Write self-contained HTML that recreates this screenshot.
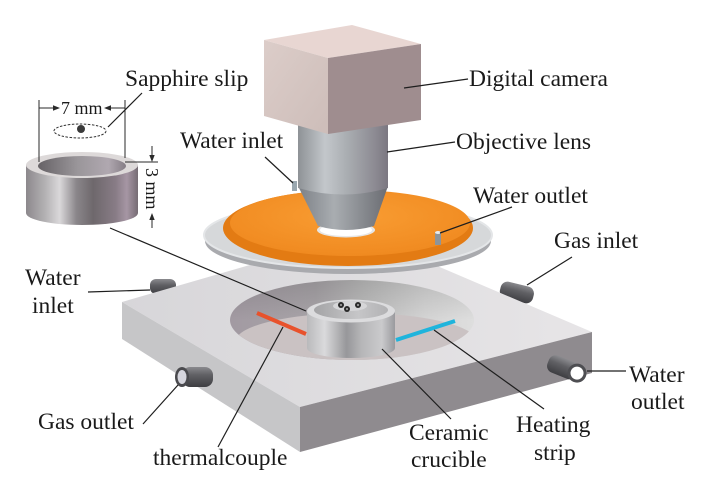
<!DOCTYPE html>
<html><head><meta charset="utf-8"><style>
html,body{margin:0;padding:0;background:#fff;}
svg{display:block;}
text{font-family:"Liberation Serif","Times New Roman",serif;font-size:23.5px;fill:#1a1a1a;}
.ld{stroke:#1e1e1e;stroke-width:1.2;fill:none;}
.dm{stroke:#2a2a2a;stroke-width:1;fill:none;}
</style></head><body>
<svg width="708" height="485" viewBox="0 0 708 485" xmlns="http://www.w3.org/2000/svg">
<defs>
 <linearGradient id="gTop" x1="0" y1="0" x2="1" y2="0">
  <stop offset="0" stop-color="#d7d6d9"/><stop offset="1" stop-color="#e7e5e7"/>
 </linearGradient>
 <linearGradient id="gWell" x1="0" y1="0" x2="1" y2="0">
  <stop offset="0" stop-color="#a29aa2"/><stop offset="0.35" stop-color="#a8a4a8"/>
  <stop offset="0.55" stop-color="#bcbcbc"/><stop offset="0.8" stop-color="#d4d4d4"/>
  <stop offset="1" stop-color="#dedede"/>
 </linearGradient>
 <linearGradient id="gWellShade" x1="0" y1="0" x2="0" y2="1">
  <stop offset="0" stop-color="#000" stop-opacity="0.12"/><stop offset="0.5" stop-color="#000" stop-opacity="0"/>
 </linearGradient>
 <linearGradient id="gCruc" x1="0" y1="0" x2="1" y2="0">
  <stop offset="0" stop-color="#b9b9bb"/><stop offset="0.2" stop-color="#dadadc"/>
  <stop offset="0.45" stop-color="#97979a"/><stop offset="0.62" stop-color="#b6b6b8"/>
  <stop offset="0.85" stop-color="#cacacc"/><stop offset="1" stop-color="#9a9a9e"/>
 </linearGradient>
 <linearGradient id="gCrucIn" x1="0" y1="0" x2="1" y2="0">
  <stop offset="0" stop-color="#a4a4a6"/><stop offset="0.6" stop-color="#c6c6c8"/><stop offset="1" stop-color="#b2b2b4"/>
 </linearGradient>
 <linearGradient id="gLens" x1="0" y1="0" x2="1" y2="0">
  <stop offset="0" stop-color="#8e9296"/><stop offset="0.3" stop-color="#c3c7cb"/>
  <stop offset="0.55" stop-color="#a9adb1"/><stop offset="0.85" stop-color="#8d8b93"/>
  <stop offset="1" stop-color="#7b7781"/>
 </linearGradient>
 <linearGradient id="gCone" x1="0" y1="0" x2="1" y2="0">
  <stop offset="0" stop-color="#7c8086"/><stop offset="0.4" stop-color="#a9adb1"/>
  <stop offset="1" stop-color="#6a6c72"/>
 </linearGradient>
 <linearGradient id="gRing" x1="0" y1="0" x2="1" y2="0">
  <stop offset="0" stop-color="#8c888c"/><stop offset="0.18" stop-color="#b6b4b6"/>
  <stop offset="0.3" stop-color="#dad8da"/><stop offset="0.45" stop-color="#8a868a"/>
  <stop offset="0.6" stop-color="#6e686c"/><stop offset="0.8" stop-color="#887c86"/>
  <stop offset="0.9" stop-color="#a696a4"/><stop offset="1" stop-color="#766c74"/>
 </linearGradient>
 <linearGradient id="gHole" x1="0" y1="0" x2="1" y2="0">
  <stop offset="0" stop-color="#666266"/><stop offset="0.45" stop-color="#9a969a"/>
  <stop offset="0.8" stop-color="#b0a8b0"/><stop offset="1" stop-color="#857d85"/>
 </linearGradient>
 <linearGradient id="gPipe" x1="0" y1="0" x2="0" y2="1">
  <stop offset="0" stop-color="#8a8a8e"/><stop offset="0.4" stop-color="#606064"/><stop offset="1" stop-color="#3e3e42"/>
 </linearGradient>
 <linearGradient id="gBoxL" x1="0" y1="0" x2="1" y2="1">
  <stop offset="0" stop-color="#dccdc9"/><stop offset="1" stop-color="#cdbdb9"/>
 </linearGradient>
 <radialGradient id="gOr" cx="0.5" cy="0.4" r="0.6">
  <stop offset="0" stop-color="#f99d33"/><stop offset="1" stop-color="#f08a20"/>
 </radialGradient>
 <clipPath id="cWell"><ellipse cx="352" cy="320" rx="122" ry="40"/></clipPath>
</defs>

<!-- back pipes -->
<rect x="150" y="279" width="26" height="15" rx="6" fill="url(#gPipe)"/>
<rect x="500" y="284" width="34" height="17" rx="7" fill="url(#gPipe)" transform="rotate(14 517 292)"/>

<!-- base block -->
<polygon points="122,302 360,233 592,332 300,407" fill="url(#gTop)"/>
<polygon points="122,302 300,407 300,452 122,339" fill="#c6c6c8"/>
<polygon points="300,407 592,332 592,373 300,452" fill="#8f8b8f"/>

<!-- well -->
<ellipse cx="352" cy="320" rx="122" ry="40" fill="url(#gWell)"/>
<ellipse cx="352" cy="320" rx="122" ry="40" fill="url(#gWellShade)"/>
<g clip-path="url(#cWell)">
 <ellipse cx="356" cy="341" rx="120" ry="28" fill="#cac2c3"/>
</g>

<!-- thermocouple -->
<line x1="257" y1="313" x2="306" y2="334" stroke="#e8522c" stroke-width="4"/>

<!-- crucible -->
<path d="M307,311 L307,348 A44,10 0 0 0 395,348 L395,311 Z" fill="url(#gCruc)"/>
<ellipse cx="351" cy="311" rx="44" ry="11.5" fill="#dcdcde"/>
<ellipse cx="351" cy="310" rx="37" ry="9" fill="url(#gCrucIn)"/>
<ellipse cx="350" cy="306" rx="17" ry="5" fill="#d6d6d8"/>
<circle cx="341" cy="305" r="3" fill="#2a2a2a"/><circle cx="341" cy="305" r="1.1" fill="#9a9a9a"/>
<circle cx="347" cy="309" r="3" fill="#2a2a2a"/><circle cx="347" cy="309" r="1.1" fill="#9a9a9a"/>
<circle cx="358" cy="305" r="3" fill="#2a2a2a"/><circle cx="358" cy="305" r="1.1" fill="#9a9a9a"/>

<!-- heating strip -->
<line x1="396" y1="340" x2="455" y2="321" stroke="#1fb4dc" stroke-width="4"/>

<!-- front pipes -->
<rect x="182" y="367" width="31" height="20" rx="8" fill="url(#gPipe)"/>
<ellipse cx="182" cy="377" rx="7" ry="10" fill="#4a4a4e"/>
<ellipse cx="182" cy="377" rx="4.5" ry="7" fill="#d6d6de"/>
<g transform="translate(552,363) rotate(22)">
 <rect x="-4" y="-9" width="31" height="18" rx="7" fill="url(#gPipe)"/>
 <circle cx="27" cy="0" r="9.5" fill="#4e4e52"/>
 <circle cx="27" cy="0" r="6.5" fill="#ffffff"/>
</g>

<!-- plate -->
<ellipse cx="348" cy="241" rx="143" ry="33" fill="#a9aaae"/>
<ellipse cx="348" cy="235" rx="144" ry="33" fill="#d6d8da" stroke="#e4e6e8" stroke-width="2"/>
<!-- orange disk -->
<ellipse cx="348" cy="228" rx="125" ry="38" fill="#e37b13"/>
<ellipse cx="350" cy="223" rx="120" ry="33" fill="url(#gOr)"/>
<!-- small water pipes -->
<rect x="292" y="181" width="5" height="10" fill="#9aa8b0"/>
<rect x="435" y="232" width="6" height="13" fill="#8e9498"/>
<ellipse cx="438" cy="232.5" rx="3" ry="1.5" fill="#e8eaec"/>
<!-- white hole -->
<ellipse cx="346" cy="230" rx="29" ry="7.5" fill="#e6e6e6"/>
<ellipse cx="346" cy="230" rx="26" ry="6" fill="#ffffff"/>

<!-- lens -->
<path d="M298,186 L388,186 L374,226 Q346,234 318,226 Z" fill="url(#gCone)"/>
<path d="M298,110 L388,110 L388,188 Q343,201 298,188 Z" fill="url(#gLens)"/>

<!-- camera -->
<polygon points="264,40 352,25 421,44 328,58" fill="#e8d6d2"/>
<polygon points="264,40 328,58 328,134 264,116" fill="url(#gBoxL)"/>
<polygon points="328,58 421,44 421,120 328,134" fill="#9f8d8f"/>

<!-- ring sample -->
<path d="M26,165 L26,213 A56,12 0 0 0 138,213 L138,165 Z" fill="url(#gRing)"/>
<ellipse cx="82" cy="165" rx="56" ry="13" fill="#ddd9d9"/>
<ellipse cx="82" cy="166" rx="44" ry="10" fill="url(#gHole)"/>

<!-- dims -->
<line class="dm" x1="39" y1="100" x2="39" y2="162"/>
<line class="dm" x1="125" y1="100" x2="125" y2="158"/>
<line class="dm" x1="39" y1="108" x2="56" y2="108"/>
<polygon points="60,108 53,105.3 53,110.7" fill="#2a2a2a"/>
<line class="dm" x1="125" y1="108" x2="108" y2="108"/>
<polygon points="104,108 111,105.3 111,110.7" fill="#2a2a2a"/>
<text x="61" y="114" style="font-size:18px">7 mm</text>
<ellipse cx="80" cy="131" rx="26" ry="7" fill="none" stroke="#333" stroke-width="1" stroke-dasharray="2.5,1.5"/>
<circle cx="81" cy="129" r="4" fill="#3a3a3a"/>
<line class="dm" x1="125" y1="162" x2="158" y2="162"/>
<line class="dm" x1="152" y1="146" x2="152" y2="158"/>
<polygon points="152,162 149.3,155 154.7,155" fill="#2a2a2a"/>
<line class="dm" x1="152" y1="228" x2="152" y2="217"/>
<polygon points="152,213 149.3,220 154.7,220" fill="#2a2a2a"/>
<text transform="translate(146,168) rotate(90)" style="font-size:18px">3 mm</text>

<!-- leaders -->
<line class="ld" x1="142" y1="93" x2="108" y2="127"/>
<line class="ld" x1="404" y1="88" x2="468" y2="79"/>
<line class="ld" x1="387" y1="152" x2="455" y2="142"/>
<line class="ld" x1="265" y1="157" x2="293" y2="183"/>
<line class="ld" x1="512" y1="207" x2="440" y2="233"/>
<line class="ld" x1="572" y1="257" x2="527" y2="285"/>
<line class="ld" x1="88" y1="292" x2="150" y2="290"/>
<line class="ld" x1="143" y1="424" x2="178" y2="385"/>
<line class="ld" x1="218" y1="447" x2="283" y2="327"/>
<line class="ld" x1="451" y1="419" x2="382" y2="349"/>
<line class="ld" x1="544" y1="409" x2="434" y2="330"/>
<line class="ld" x1="587" y1="371" x2="626" y2="371"/>
<line class="ld" x1="110" y1="228" x2="306" y2="311"/>

<!-- labels -->
<text x="125" y="86">Sapphire slip</text>
<text x="469" y="86">Digital camera</text>
<text x="456" y="149">Objective lens</text>
<text x="180" y="148">Water inlet</text>
<text x="473" y="203">Water outlet</text>
<text x="554" y="248">Gas inlet</text>
<text x="25" y="285">Water</text>
<text x="32" y="313">inlet</text>
<text x="38" y="429">Gas outlet</text>
<text x="153" y="465">thermalcouple</text>
<text x="409" y="440">Ceramic</text>
<text x="411" y="467">crucible</text>
<text x="516" y="432">Heating</text>
<text x="534" y="460">strip</text>
<text x="629" y="382">Water</text>
<text x="631" y="409">outlet</text>
</svg>
</body></html>
